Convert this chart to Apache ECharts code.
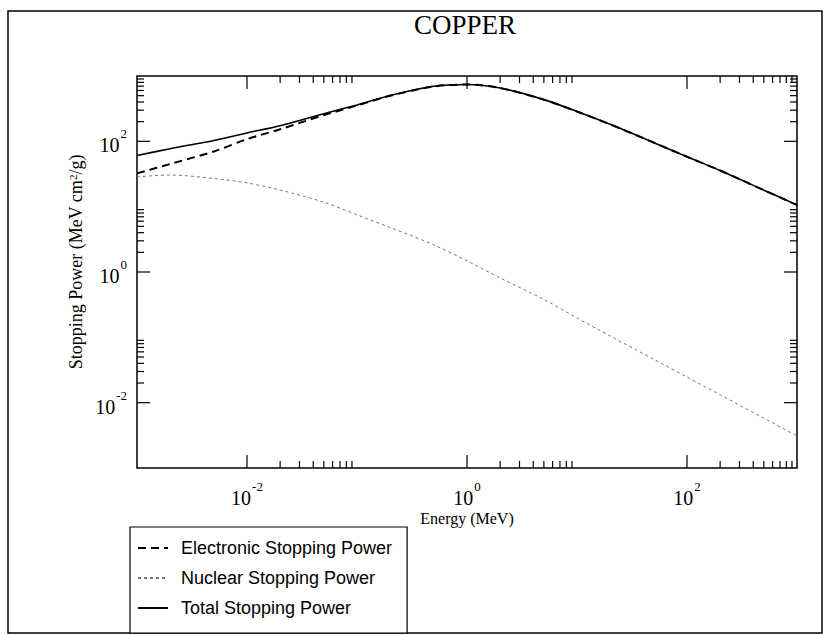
<!DOCTYPE html>
<html>
<head>
<meta charset="utf-8">
<title>COPPER – Stopping Power</title>
<script src="https://cdn.jsdelivr.net/npm/echarts@6/dist/echarts.min.js"></script>
<style>
  html, body { margin: 0; padding: 0; background: #fff; }
  #chart { width: 829px; height: 635px; }
</style>
</head>
<body>
<div id="chart"></div>
<script>
// Stopping power of copper versus particle energy (log-log).
const energy     = [1e-3, 2e-3, 5e-3, 1e-2, 2e-2, 5e-2, 0.1, 0.2, 0.5, 1, 2, 5, 10, 20, 50, 100, 200, 500, 1000];
const electronic = [32.3, 45, 70, 108, 153, 252, 353, 498, 692, 741, 655, 434, 286, 182, 95.5, 58, 35.8, 17.9, 10.6];
const nuclear    = [28.6, 30.5, 27, 23.1, 18, 11.7, 7.5, 4.8, 2.6, 1.48, 0.81, 0.38, 0.198, 0.105, 0.046, 0.0247, 0.0132, 0.0058, 0.0031];
const total      = [60.7, 77, 103, 134.5, 173, 265, 361, 503, 695, 743, 656, 435, 286, 182, 95.5, 58, 35.8, 17.9, 10.6];

// Labelled decades and their exponents; minor ticks fill the decade after each one.
const majorTicks = [1e-2, 1, 1e2];
const tickExponents = ['-2', '0', '2'];
const minorMultipliers = [2, 3, 4, 5, 6, 7, 8, 9];

const seriesNames = ['Electronic Stopping Power', 'Nuclear Stopping Power', 'Total Stopping Power'];

const serif = '"Liberation Serif", "Times New Roman", serif';
const sans = '"Liberation Sans", Arial, sans-serif';

function pairs(xs, ys) { return xs.map((x, i) => [x, ys[i]]); }

// Tick list: [value, isMajor]
const tickList = [];
majorTicks.forEach(m => {
  tickList.push([m, 1]);
  minorMultipliers.forEach(k => tickList.push([m * k, 0]));
});

function expLabel(value) {
  const e = Math.round(Math.log10(value));
  const idx = majorTicks.findIndex(m => Math.round(Math.log10(m)) === e);
  if (idx < 0) return '';
  return '{b|10}{s|' + tickExponents[idx] + '}';
}

const labelRich = {
  b: { fontFamily: serif, fontSize: 20, color: '#000', padding: [8, 0, 0, 0] },
  s: { fontFamily: serif, fontSize: 13, color: '#000', verticalAlign: 'top', padding: [0, 0, 0, 1] }
};

const tickStyle = { stroke: '#000', lineWidth: 1.2 };

function renderXTick(params, api) {
  const cs = params.coordSys;
  const x = api.coord([api.value(0), 1])[0];
  const len = api.value(1) ? 13 : 7;
  const top = cs.y, bottom = cs.y + cs.height;
  return {
    type: 'group',
    children: [
      { type: 'line', shape: { x1: x, y1: bottom, x2: x, y2: bottom - len }, style: tickStyle },
      { type: 'line', shape: { x1: x, y1: top, x2: x, y2: top + len }, style: tickStyle }
    ]
  };
}

function renderYTick(params, api) {
  const cs = params.coordSys;
  const y = api.coord([1, api.value(0)])[1];
  const len = api.value(1) ? 13 : 7;
  const left = cs.x, right = cs.x + cs.width;
  return {
    type: 'group',
    children: [
      { type: 'line', shape: { x1: left, y1: y, x2: left + len, y2: y }, style: tickStyle },
      { type: 'line', shape: { x1: right, y1: y, x2: right - len, y2: y }, style: tickStyle }
    ]
  };
}

const chart = echarts.init(document.getElementById('chart'), null, { renderer: 'svg' });

chart.setOption({
  backgroundColor: '#fff',
  animation: false,
  title: {
    text: 'COPPER',
    left: 460,
    top: 6,
    textAlign: 'center',
    textStyle: { fontFamily: serif, fontSize: 27, fontWeight: 'normal', color: '#000' }
  },
  graphic: [
    {
      type: 'rect',
      shape: { x: 8, y: 11, width: 814, height: 622 },
      style: { fill: 'none', stroke: '#000', lineWidth: 1.5 },
      z: -1,
      silent: true
    }
  ],
  legend: {
    data: seriesNames,
    orient: 'vertical',
    left: 130,
    top: 527,
    itemWidth: 30,
    itemHeight: 14,
    itemGap: 12,
    padding: [12, 15, 16, 7],
    borderColor: '#000',
    borderWidth: 1.2,
    backgroundColor: '#fff',
    selectedMode: false,
    itemStyle: { opacity: 0 },
    textStyle: { fontFamily: sans, fontSize: 18, color: '#000', padding: [0, 0, 0, 8] }
  },
  grid: {
    left: 137, right: 32, top: 76, bottom: 167,
    show: true, borderColor: '#000', borderWidth: 1.5,
    containLabel: false,
    outerBoundsMode: 'none'
  },
  xAxis: {
    type: 'log',
    logBase: 10,
    min: 1e-3,
    max: 1e3,
    splitNumber: 6,
    name: 'Energy (MeV)',
    nameLocation: 'middle',
    nameGap: 42,
    nameMoveOverlap: false,
    nameTextStyle: { fontFamily: serif, fontSize: 16, color: '#000' },
    axisLine: { show: false },
    axisTick: { show: false },
    splitLine: { show: false },
    axisLabel: { margin: 12, formatter: expLabel, rich: labelRich }
  },
  yAxis: {
    type: 'log',
    logBase: 10,
    min: 1e-3,
    max: 1e3,
    splitNumber: 6,
    name: 'Stopping Power (MeV cm{s|2}/g)',
    nameLocation: 'middle',
    nameGap: 52,
    nameMoveOverlap: false,
    nameTextStyle: {
      fontFamily: serif, fontSize: 18, color: '#000',
      padding: [0, 0, 0, 20],
      rich: { s: { fontFamily: serif, fontSize: 11, color: '#000', verticalAlign: 'top' } }
    },
    axisLine: { show: false },
    axisTick: { show: false },
    splitLine: { show: false },
    axisLabel: { margin: 10, formatter: expLabel, rich: labelRich }
  },
  series: [
    {
      name: seriesNames[0],
      type: 'line',
      data: pairs(energy, electronic),
      symbol: 'none',
      smooth: 0.3,
      color: '#000',
      lineStyle: { color: '#000', width: 2, type: [8, 5] }
    },
    {
      name: seriesNames[1],
      type: 'line',
      data: pairs(energy, nuclear),
      symbol: 'none',
      smooth: 0.3,
      color: '#777',
      lineStyle: { color: '#777', width: 1, type: [3, 3] }
    },
    {
      name: seriesNames[2],
      type: 'line',
      data: pairs(energy, total),
      symbol: 'none',
      smooth: 0.3,
      color: '#000',
      lineStyle: { color: '#000', width: 1.6 }
    },
    {
      type: 'custom',
      name: 'xTicks',
      renderItem: renderXTick,
      data: tickList,
      encode: { x: 0 },
      silent: true,
      z: 5
    },
    {
      type: 'custom',
      name: 'yTicks',
      renderItem: renderYTick,
      data: tickList,
      encode: { y: 0 },
      silent: true,
      z: 5
    }
  ]
});
</script>
</body>
</html>
